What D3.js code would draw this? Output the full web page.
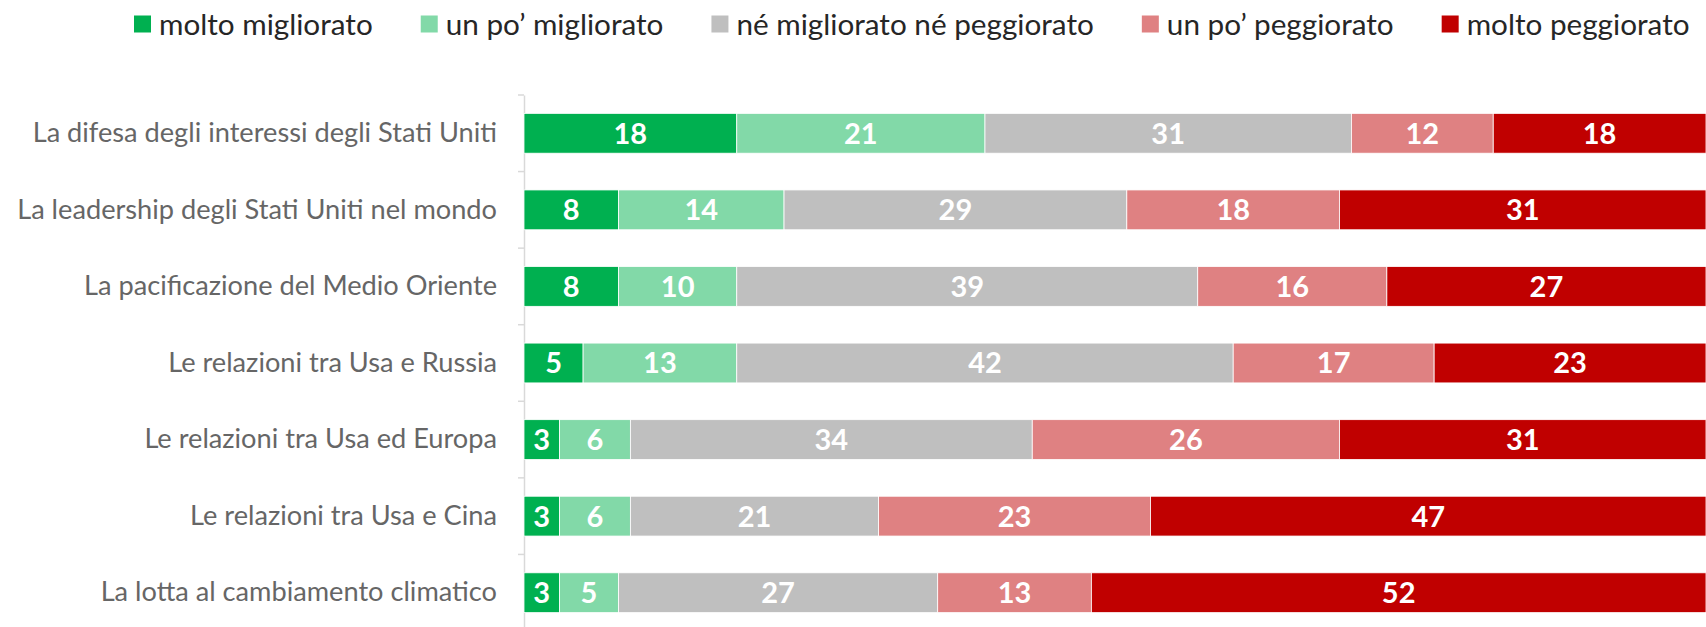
<!DOCTYPE html>
<html>
<head>
<meta charset="utf-8">
<script src="https://cdn.jsdelivr.net/npm/d3@7"></script>
<style>
  body { margin: 0; background: #fff; }
  svg text { font-family: Lato, "Open Sans", sans-serif; }
</style>
</head>
<body>
<svg id="chart"></svg>
<script>
const categories = [
  'La difesa degli interessi degli Stati Uniti',
  'La leadership degli Stati Uniti nel mondo',
  'La pacificazione del Medio Oriente',
  'Le relazioni tra Usa e Russia',
  'Le relazioni tra Usa ed Europa',
  'Le relazioni tra Usa e Cina',
  'La lotta al cambiamento climatico'
];
const seriesNames = ['molto migliorato', 'un po\u2019 migliorato', 'n\u00e9 migliorato n\u00e9 peggiorato', 'un po\u2019 peggiorato', 'molto peggiorato'];
const seriesColors = ['#00B050', '#82D9A8', '#BFBFBF', '#DF8182', '#C00000'];
const moltoMigliorato = [18, 8, 8, 5, 3, 3, 3];
const unPoMigliorato = [21, 14, 10, 13, 6, 6, 5];
const neNe = [31, 29, 39, 42, 34, 21, 27];
const unPoPeggiorato = [12, 18, 16, 17, 26, 23, 13];
const moltoPeggiorato = [18, 31, 27, 23, 31, 47, 52];

const width = 1706, height = 627;
const margin = {left: 524, right: 0, top: 95, bottom: -4};

const svg = d3.select('#chart').attr('width', width).attr('height', height);

const rows = categories.map((c, i) => ({
  cat: c,
  vals: [moltoMigliorato[i], unPoMigliorato[i], neNe[i], unPoPeggiorato[i], moltoPeggiorato[i]]
}));

const stack = d3.stack()
  .keys(d3.range(5))
  .value((d, k) => d.vals[k]);
const layers = stack(rows);

const x = d3.scaleLinear().domain([0, 100]).range([margin.left, width - margin.right]);
const y = d3.scaleBand().domain(categories).range([margin.top, height - margin.bottom]).paddingInner(0.48).paddingOuter(0.24);

// category axis
const yAxis = d3.axisLeft(y).tickSize(0).tickPadding(27);
const ag = svg.append('g').attr('transform', `translate(${margin.left},0)`).call(yAxis);
ag.select('.domain').attr('stroke', '#D9D9D9').attr('stroke-width', 1.5);
ag.selectAll('text').attr('fill', '#666').attr('font-size', 27.2);

// boundary ticks between categories
const step = y.step();
const bounds = d3.range(categories.length + 1).map(i => margin.top + i * step);
svg.append('g').selectAll('line').data(bounds).join('line')
  .attr('x1', margin.left - 6).attr('x2', margin.left)
  .attr('y1', d => d).attr('y2', d => d)
  .attr('stroke', '#D9D9D9').attr('stroke-width', 1.5);

// bars
const g = svg.append('g');
layers.forEach((layer, k) => {
  const lg = g.append('g');
  lg.selectAll('rect').data(layer).join('rect')
    .attr('x', d => x(d[0]))
    .attr('width', d => x(d[1]) - x(d[0]))
    .attr('y', d => y(d.data.cat))
    .attr('height', y.bandwidth())
    .attr('fill', seriesColors[k])
    .attr('stroke', '#fff').attr('stroke-width', 0.8);
  lg.selectAll('text').data(layer).join('text')
    .attr('x', d => (x(d[0]) + x(d[1])) / 2)
    .attr('y', d => y(d.data.cat) + y.bandwidth() / 2)
    .attr('dy', '0.36em')
    .attr('text-anchor', 'middle')
    .attr('fill', '#fff')
    .attr('font-weight', 'bold')
    .attr('font-size', 29)
    .text(d => d.data.vals[k]);
});

// legend
const legend = svg.append('g').attr('transform', 'translate(134,24)');
let lx = 0;
seriesNames.forEach((name, k) => {
  const it = legend.append('g').attr('transform', `translate(${lx},0)`);
  it.append('rect').attr('x', 0).attr('y', -8.5).attr('width', 17).attr('height', 17).attr('fill', seriesColors[k]);
  const t = it.append('text').attr('x', 25).attr('dy', '0.36em')
    .attr('font-size', 29.7).attr('fill', '#262626').text(name);
  lx += 25 + t.node().getComputedTextLength() + 48;
});
</script>
</body>
</html>
